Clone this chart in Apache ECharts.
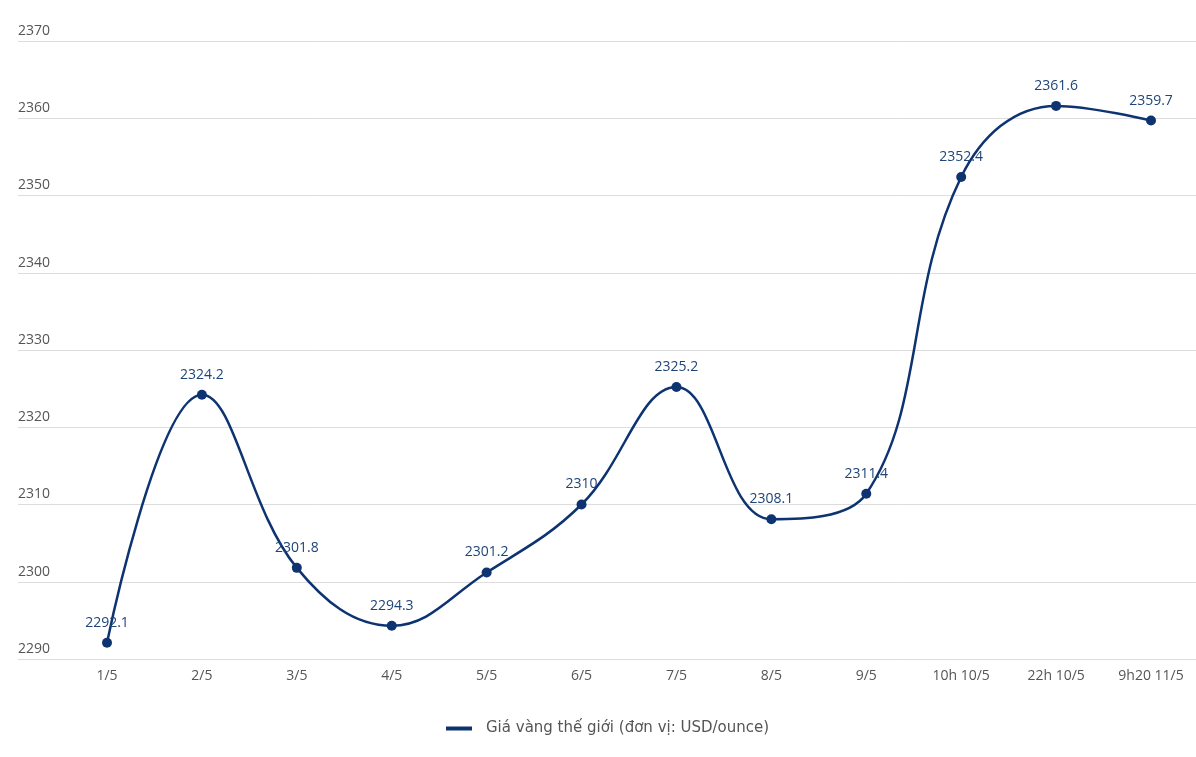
<!DOCTYPE html>
<html>
<head>
<meta charset="utf-8">
<script src="https://cdn.jsdelivr.net/npm/echarts@6/dist/echarts.min.js"></script>
<style>
html,body{margin:0;padding:0;background:#fff;}
#chart{width:1196px;height:757px;}
</style>
</head>
<body>
<div id="chart"></div>
<script>
const categories = ['1/5','2/5','3/5','4/5','5/5','6/5','7/5','8/5','9/5','10h 10/5','22h 10/5','9h20 11/5'];
const prices = [2292.1, 2324.2, 2301.8, 2294.3, 2301.2, 2310, 2325.2, 2308.1, 2311.4, 2352.4, 2361.6, 2359.7];
const seriesName = 'Giá vàng thế giới (đơn vị: USD/ounce)';
const yMin = 2290, yMax = 2370, yStep = 10;

const chart = echarts.init(document.getElementById('chart'));
const font = "'Open Sans', 'Noto Sans', sans-serif";
chart.setOption({
  backgroundColor: '#ffffff',
  animation: false,
  textStyle: { fontFamily: font },
  grid: [
    { left: 18, right: 0, top: 41, bottom: 98 },
    { left: 107, right: 45, top: 41, bottom: 98 }
  ],
  xAxis: [
    { type: 'value', gridIndex: 0, show: false, min: 0, max: 1 },
    {
      type: 'category', gridIndex: 1, data: categories, boundaryGap: false,
      axisLine: { show: false }, axisTick: { show: false },
      axisLabel: { color: '#555', fontSize: 14, margin: 10, fontFamily: font }
    }
  ],
  yAxis: [
    {
      type: 'value', gridIndex: 0, min: yMin, max: yMax, interval: yStep,
      axisLine: { show: false }, axisTick: { show: false },
      axisLabel: { inside: true, margin: 0, color: '#555', fontSize: 14, verticalAlign: 'bottom', align: 'left', padding: [0,0,3,0], fontFamily: font,
        formatter: v => String(v) },
      splitLine: { lineStyle: { color: '#dddddd', width: 1 } }
    },
    { type: 'value', gridIndex: 1, min: yMin, max: yMax, interval: yStep, show: false, splitLine: { show: false } }
  ],
  legend: {
    left: 441, top: 716,
    icon: 'rect', itemWidth: 26, itemHeight: 4, itemGap: 10,
    textStyle: { color: '#555', fontSize: 15, fontFamily: "'DejaVu Sans', sans-serif", padding: [0,0,0,9] },
    data: [seriesName]
  },
  series: [{
    name: seriesName,
    type: 'line',
    xAxisIndex: 1, yAxisIndex: 1,
    data: prices,
    smooth: 0.4,
    symbol: 'circle', symbolSize: 10,
    lineStyle: { color: '#0d3471', width: 2.5 },
    itemStyle: { color: '#0d3471' },
    label: { show: true, position: 'top', distance: 8, color: '#1e4478', fontSize: 14, fontFamily: font }
  }]
});
</script>
</body>
</html>
